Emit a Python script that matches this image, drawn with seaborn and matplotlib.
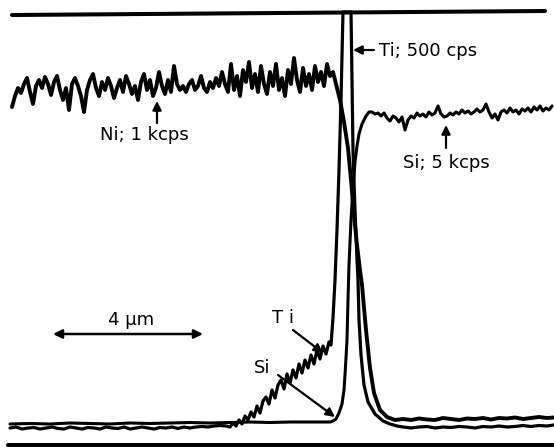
import numpy as np
import matplotlib
matplotlib.use("Agg")
import matplotlib.pyplot as plt
import seaborn as sns

sns.set_style("white")
plt.rcParams['font.family'] = ['DejaVu Sans']
plt.rcParams['text.color'] = 'black'

# Chart-paper coordinates of the recorder trace: x = scan position, y = pen position from top
# ---- Ni; 1 kcps ----
ni_plateau_y = [107, 96, 88, 93, 84, 78, 92, 104, 86, 80, 88, 77, 84, 95, 82, 76, 90, 100, 88, 110,
                84, 78, 86, 96, 112, 90, 80, 74, 88, 96, 82, 90, 78, 86, 98, 88, 80, 92, 76, 84,
                94, 86, 100, 82, 74, 90, 80, 96, 88, 72, 86, 94, 80, 92, 66, 84, 90, 86, 92, 84,
                80, 90, 86, 76, 88, 92, 82, 88, 78, 86, 72, 84, 92, 64, 90, 76, 96, 70, 82, 62,
                88, 74, 92, 66, 84, 94, 72, 86, 64, 90, 78, 96, 70, 84, 58, 80, 92, 68, 86, 74,
                90, 66, 82, 72, 86, 64, 76, 72]
ni_plateau_x = 12 + 3 * np.arange(len(ni_plateau_y))
ni_fall_x = [336, 340, 344, 348, 351, 354, 357, 360, 362, 366, 370, 374, 380, 387, 395]
ni_fall_y = [84, 100, 122, 148, 180, 215, 245, 270, 285, 330, 368, 393, 410, 417, 420]
right_base_x = [403, 411, 419, 427, 435, 443, 451, 459, 467, 475, 483, 491, 499, 507, 515, 523, 531, 539, 547, 554]
ni_base_y = [419, 420, 418.5, 419.5, 420, 418, 419, 420, 418.5, 419, 418, 419.5, 418, 418.5, 417.5, 419,
             418, 417, 418, 417.5]

# ---- Ti; 500 cps ----
ti_left_base_y = [428, 427, 429, 428, 427.5, 429, 428, 427, 428.5, 429, 427, 428, 429, 427.5, 428, 429,
                  427, 428, 428.5, 427, 429, 428, 427, 428, 429, 427.5, 428, 427, 428.5, 427, 428, 427,
                  426.5, 427, 426, 425.5, 426]
ti_left_base_x = 10 + 6 * np.arange(len(ti_left_base_y))
ti_ramp_y = [427, 423, 426, 420, 424, 416, 420, 412, 417, 406, 413, 401, 397, 404, 390, 398, 385, 380,
             389, 374, 383, 370, 378, 364, 373, 360, 368, 355, 364, 350, 359, 346, 354, 342]
ti_ramp_x = 230 + 3 * np.arange(len(ti_ramp_y))
ti_peak_x = [331, 333, 335, 337, 339, 341, 343, 351, 352, 353, 355, 357, 358, 359, 361, 364, 368, 375, 383, 390, 397]
ti_peak_y = [345, 318, 280, 230, 170, 100, 12, 12, 80, 150, 210, 260, 280, 320, 355, 385, 402, 414, 421, 424, 426]
ti_right_base_y = [427, 428, 427, 426.5, 428, 427, 427.5, 426.5, 427, 428, 426.5, 427, 426, 427, 426.5,
                   425.5, 426.5, 425.5, 426, 425]

# ---- Si; 5 kcps ----
si_left_base_y = [424, 423.5, 424, 423, 423.5, 424, 423, 423.5, 423, 422.5, 423, 422.5, 422, 422.5, 422, 422, 422]
si_left_base_x = 10 + 20 * np.arange(len(si_left_base_y))
si_rise_x = [333, 336, 339, 342, 344, 345, 347, 348, 349, 351, 353, 355, 357, 359, 362, 366, 369]
si_rise_y = [421, 419, 413, 404, 390, 375, 340, 300, 265, 220, 188, 162, 146, 134, 124, 116, 112]
si_plateau_y = [112, 114, 113, 116, 113, 118, 121, 116, 118, 122, 117, 130, 120, 116, 118, 113, 116, 114,
                117, 112, 115, 113, 106, 114, 117, 116, 113, 115, 112, 114, 110, 113, 111, 114, 112, 109,
                112, 110, 104, 112, 118, 114, 120, 112, 110, 113, 108, 112, 110, 114, 109, 111, 108, 112,
                107, 110, 106, 111, 108, 110, 106]
si_plateau_x = 372 + 3 * np.arange(len(si_plateau_y))

# recorder full-scale and zero lines
top_line_x = [12, 545]
top_line_y = [15, 11]
bottom_line_x = [8, 554]
bottom_line_y = [444.5, 444.5]

ni_x = np.concatenate([ni_plateau_x, ni_fall_x, right_base_x])
ni_y = np.concatenate([ni_plateau_y, ni_fall_y, ni_base_y])
ti_x = np.concatenate([ti_left_base_x, ti_ramp_x, ti_peak_x, right_base_x])
ti_y = np.concatenate([ti_left_base_y, ti_ramp_y, ti_peak_y, ti_right_base_y])
si_x = np.concatenate([si_left_base_x, si_rise_x, si_plateau_x])
si_y = np.concatenate([si_left_base_y, si_rise_y, si_plateau_y])

fig = plt.figure(figsize=(5.54, 4.47), dpi=100)
ax = fig.add_axes([0, 0, 1, 1])

kw = dict(sort=False, estimator=None, color='black', ax=ax, legend=False)
sns.lineplot(x=si_x, y=si_y, lw=2.2, **kw)
sns.lineplot(x=ti_x, y=ti_y, lw=2.3, **kw)
sns.lineplot(x=ni_x, y=ni_y, lw=2.8, **kw)
sns.lineplot(x=top_line_x, y=top_line_y, lw=2.9, **kw)
sns.lineplot(x=bottom_line_x, y=bottom_line_y, lw=2.9, **kw)

ax.set_xlim(0, 554)
ax.set_ylim(447, 0)
ax.set_axis_off()

fs = 13
ap = dict(arrowstyle='-|>', color='black', lw=1.6, mutation_scale=13, shrinkA=0, shrinkB=0)
tk = dict(fontsize=fs, color='black', va='baseline')
ax.text(100, 140, "Ni; 1 kcps", ha='left', **tk)
ax.annotate("", xy=(157, 101), xytext=(157, 123), arrowprops=ap)
ax.text(379, 56, "Ti; 500 cps", ha='left', **tk)
ax.annotate("", xy=(353, 50), xytext=(374, 50), arrowprops=ap)
ax.text(403, 168, "Si; 5 kcps", ha='left', **tk)
ax.annotate("", xy=(446, 125), xytext=(446, 148), arrowprops=ap)
ax.text(131, 325, "4 µm", ha='center', **tk)
ax.annotate("", xy=(53, 334), xytext=(203, 334),
            arrowprops=dict(arrowstyle='<|-|>', color='black', lw=1.8, mutation_scale=13, shrinkA=0, shrinkB=0))
ax.text(283, 323, "T i", ha='center', **tk)
ax.annotate("", xy=(323, 353), xytext=(293, 330), arrowprops=ap)
ax.text(262, 373, "Si", ha='center', **tk)
ax.annotate("", xy=(335, 417), xytext=(278, 375), arrowprops=ap)

fig.savefig("out.png", dpi=100, facecolor='white')
